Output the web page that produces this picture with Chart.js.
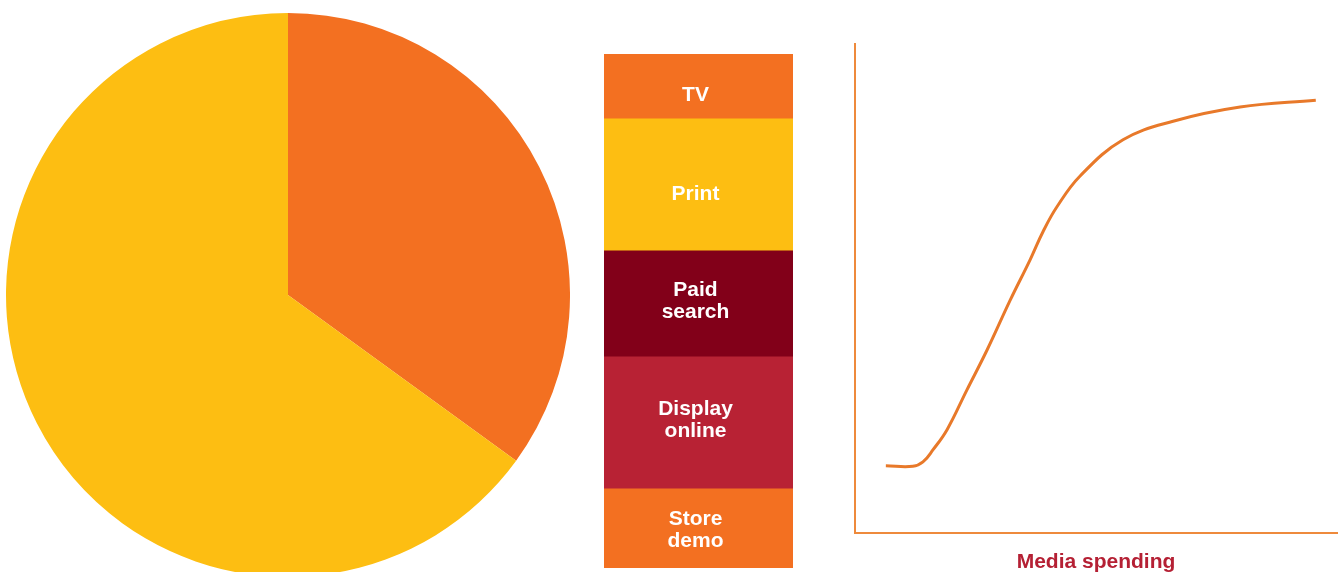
<!DOCTYPE html>
<html>
<head>
<meta charset="utf-8">
<script src="https://cdn.jsdelivr.net/npm/chart.js@4"></script>
<style>
  html, body { margin: 0; padding: 0; background: #fff; }
  body { width: 1343px; height: 572px; overflow: hidden; position: relative; }
  canvas { position: absolute; }
</style>
</head>
<body>
<canvas id="pie" width="564" height="564" style="left:6px;top:13px"></canvas>
<canvas id="mix" width="189" height="514" style="left:604px;top:54px"></canvas>
<canvas id="curve" width="498" height="545" style="left:845px;top:34px"></canvas>
<script>
const FONT = '"Liberation Sans", Arial, Helvetica, sans-serif';

// pie split
const pieLabels = ['Orange share', 'Yellow share'];
const pieValues = [35, 65];
const pieColors = ['#F37021', '#FDBE12'];

// media mix, listed top to bottom
const mixLabels = [['TV'], ['Print'], ['Paid', 'search'], ['Display', 'online'], ['Store', 'demo']];
const mixValues = [12.6, 25.7, 20.6, 25.7, 15.4];
const mixColors = ['#F37021', '#FDBE12', '#820019', '#B82234', '#F37021'];

// response curve
const spendX = [6.4, 12.0, 14.1, 16.2, 19.1, 23.2, 27.4, 32.2, 36.3, 39.0, 41.9, 46.7, 55.6, 66.0, 79.9, 95.6];
const responseY = [13.7, 13.6, 14.5, 17.0, 21.1, 29.2, 37.4, 47.6, 55.8, 61.6, 66.7, 73.0, 80.4, 84.2, 87.1, 88.5];
const curveTitle = 'Media spending';

Chart.defaults.font.family = FONT;
Chart.defaults.animation = false;

new Chart(document.getElementById('pie'), {
  type: 'pie',
  data: {
    labels: pieLabels,
    datasets: [{ data: pieValues, backgroundColor: pieColors, borderWidth: 0 }]
  },
  options: {
    responsive: false,
    layout: { padding: 0 },
    plugins: { legend: { display: false }, tooltip: { enabled: false } }
  }
});

// writes each segment's name in white over the middle of the segment
const segmentText = {
  id: 'segmentText',
  afterDatasetsDraw(chart) {
    const ctx = chart.ctx;
    ctx.save();
    ctx.fillStyle = '#fff';
    ctx.font = 'bold 21px ' + FONT;
    ctx.textAlign = 'center';
    ctx.textBaseline = 'middle';
    chart.data.datasets.forEach((ds, i) => {
      const bar = chart.getDatasetMeta(i).data[0];
      const lines = ds.label;
      const mid = (bar.y + bar.base) / 2;
      const lh = 22;
      // single words sit a little low, stacked pairs a little high
      const shift = lines.length === 1 ? 9 : (i === 0 ? 2 : -3);
      lines.forEach((t, k) => {
        ctx.fillText(t, bar.x - 3, mid + shift + (k - (lines.length - 1) / 2) * lh);
      });
    });
    ctx.restore();
  }
};

// stacking goes bottom up, so feed the list in reverse
const order = mixValues.map((_, i) => mixValues.length - 1 - i);
new Chart(document.getElementById('mix'), {
  type: 'bar',
  data: {
    labels: ['Mix'],
    datasets: order.map(i => ({
      label: mixLabels[i],
      data: [mixValues[i]],
      backgroundColor: mixColors[i],
      borderWidth: 0,
      barPercentage: 1,
      categoryPercentage: 1
    }))
  },
  options: {
    responsive: false,
    layout: { padding: 0 },
    scales: {
      x: { stacked: true, display: false },
      y: { stacked: true, display: false, min: 0, max: 100 }
    },
    plugins: { legend: { display: false }, tooltip: { enabled: false } }
  },
  plugins: [segmentText]
});

const axisColor = '#EE8A3C';
new Chart(document.getElementById('curve'), {
  type: 'line',
  data: {
    datasets: [{
      data: spendX.map((x, i) => ({ x: x, y: responseY[i] })),
      borderColor: '#E8792A',
      borderWidth: 3,
      pointRadius: 0,
      fill: false,
      tension: 0.4
    }]
  },
  options: {
    responsive: false,
    layout: { padding: { left: 10, top: 10, right: 6, bottom: 0 } },
    scales: {
      x: {
        type: 'linear', min: 0, max: 100,
        grid: { display: false, drawTicks: false, tickLength: 0 },
        ticks: { display: false },
        border: { display: true, color: axisColor, width: 2 },
        title: {
          display: true, text: curveTitle, color: '#B52034',
          font: { size: 21, weight: 'bold', family: FONT },
          padding: { top: 17, bottom: 4 }
        }
      },
      y: {
        min: 0, max: 100,
        grid: { display: false, drawTicks: false, tickLength: 0 },
        ticks: { display: false },
        border: { display: true, color: axisColor, width: 2 }
      }
    },
    plugins: { legend: { display: false }, tooltip: { enabled: false } }
  }
});
</script>
</body>
</html>
